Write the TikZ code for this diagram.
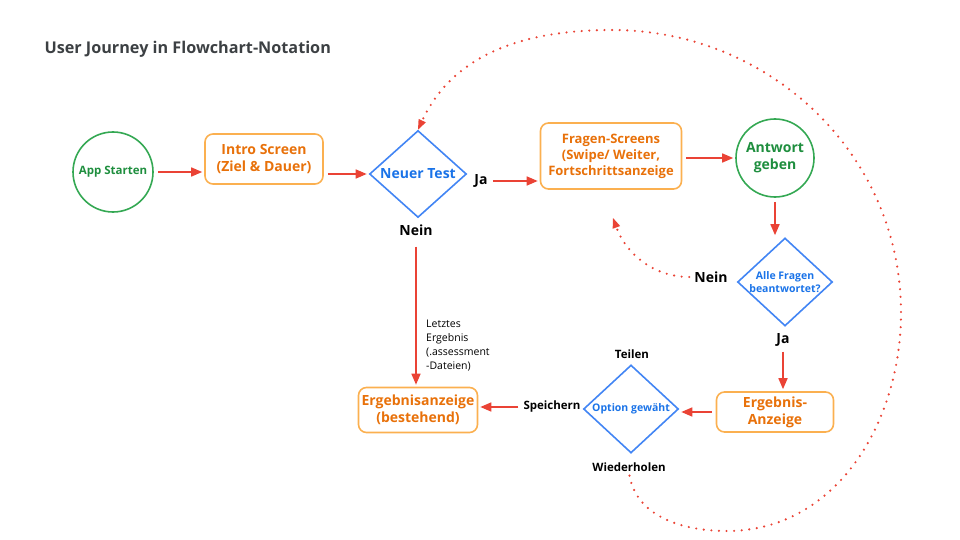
\documentclass[tikz,border=0pt]{standalone}
\usepackage{fontspec}
\setmainfont{Open Sans}
\usetikzlibrary{shapes.geometric,arrows.meta,positioning,calc}
\definecolor{startgreen}{RGB}{52,168,83}
\definecolor{textgreen}{RGB}{30,142,62}
\definecolor{boxorange}{RGB}{251,176,80}
\definecolor{textorange}{RGB}{232,113,10}
\definecolor{decblue}{RGB}{66,133,244}
\definecolor{textblue}{RGB}{26,115,232}
\definecolor{flowred}{RGB}{234,67,53}
\definecolor{titlegray}{RGB}{60,64,67}

\begin{document}
\begin{tikzpicture}[x=1pt,y=-1pt,
  screen/.style={draw=boxorange, line width=1.6pt, rounded corners=8pt,
    text=textorange, font=\fontsize{14}{17}\selectfont\bfseries,
    align=center, inner sep=0pt},
  roundstep/.style={circle, draw=startgreen, line width=1.6pt,
    text=textgreen, font=\fontsize{14}{17}\selectfont\bfseries,
    align=center, inner sep=0pt},
  decision/.style={diamond, draw=decblue, line width=1.6pt, inner sep=0pt},
  decisiontext/.style={text=textblue, align=center,
    font=\fontsize{14}{17}\selectfont\bfseries},
  answer/.style={font=\fontsize{14}{17}\selectfont\bfseries, inner sep=1pt},
  choice/.style={font=\fontsize{11.5}{14}\selectfont\bfseries, inner sep=1pt},
  flow/.style={draw=flowred, line width=1.6pt,
    -{Triangle[length=11pt,width=9pt]}, shorten <=4pt, shorten >=2pt},
  backloop/.style={draw=flowred, line width=2.4pt, line cap=round,
    dash pattern=on 0pt off 7.6pt,
    -{Triangle[length=10pt,width=8pt,fill=flowred,line width=0pt]}}
]
\useasboundingbox (0,0) rectangle (960,540);

% Title
\node[anchor=west, text=titlegray, font=\fontsize{16.2}{19}\selectfont\bfseries]
  (title) at (41,49) {User Journey in Flowchart-Notation};

% Main path
\node[roundstep, minimum size=80, font=\fontsize{11.5}{14}\selectfont\bfseries]
  (start) at (113,172) {App Starten};
\node[screen, minimum width=118, minimum height=50]
  (intro) at (264,159) {Intro Screen\\(Ziel \& Dauer)};
\node[decision, minimum width=97, minimum height=87,
  label={[decisiontext]center:Neuer Test}] (neu) at (418,174) {};
\node[answer] (ja1) at (481,181) {Ja};
\node[answer] (nein1) at (416,230) {Nein};
\node[screen, minimum width=141, minimum height=66,
  font=\fontsize{13}{16}\selectfont\bfseries]
  (fragen) at (611,156) {Fragen-Screens\\(Swipe/ Weiter,\\Fortschrittsanzeige};
\node[roundstep, minimum size=78] (antwort) at (775,158) {Antwort\\geben};
\node[decision, minimum width=95, minimum height=88,
  label={[decisiontext, font=\fontsize{10.5}{13}\selectfont\bfseries]center:Alle Fragen\\beantwortet?}]
  (alle) at (785,282) {};
\node[answer] (nein2) at (711,277) {Nein};
\node[answer] (ja2) at (783,340) {Ja};
\node[screen, minimum width=117, minimum height=40]
  (erg) at (775,412) {Ergebnis-\\Anzeige};

% Options
\node[decision, minimum width=95, minimum height=88,
  label={[decisiontext, font=\fontsize{10.5}{13}\selectfont\bfseries]center:Option gewäht}]
  (opt) at (631,409) {};
\node[choice] (teilen) at (632,354) {Teilen};
\node[choice] (wdh) at (629,467) {Wiederholen};
\node[choice] (speichern) at (552,407) {Speichern};
\node[screen, minimum width=119, minimum height=45]
  (best) at (418,410) {Ergebnisanzeige\\(bestehend)};
\node[anchor=north west, align=left, inner sep=0pt,
  font=\fontsize{10.5}{14}\selectfont] (letztes) at (426,320)
  {Letztes\\Ergebnis\\(.assessment\\-Dateien)};

% Loop helpers
\coordinate (zurueck) at (613,218);
\coordinate (loopbottom) at (727,531);
\coordinate (loopright) at (901,313);
\coordinate (looptop) at (612,30);

% Connectors
\draw[flow] (start.east) -- (start.east -| intro.west);
\draw[flow] (intro.east |- neu.west) -- (neu.west);
\draw[flow] (ja1.east) -- (ja1.east -| fragen.west);
\draw[flow] (fragen.east |- antwort.west) -- (antwort.west);
\draw[flow] (antwort.south) -- (antwort.south |- alle.north);
\draw[flow] (ja2.south) -- (ja2.south |- erg.north);
\draw[flow] (erg.west) -- (erg.west -| opt.east);
\draw[flow] (speichern.west) -- (speichern.west -| best.east);
\draw[flow, shorten <=10pt] (nein1.south) -- (nein1.south |- best.north);

% Dotted loops
\draw[backloop, shorten <=4pt] (nein2.west) to[out=180,in=-70] (zurueck);
\draw[backloop, shorten <=3pt] (wdh.south) to[out=-80,in=180] (loopbottom)
  to[out=0,in=-90] (loopright) to[out=90,in=0] (looptop)
  to[out=180,in=65] (neu.north);

\end{tikzpicture}
\end{document}
